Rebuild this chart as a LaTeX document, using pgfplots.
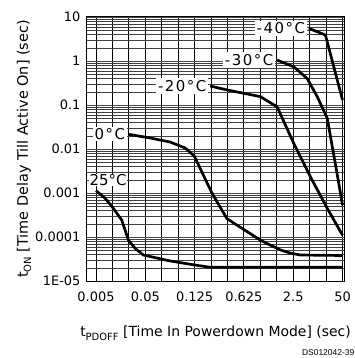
\documentclass[border=0pt]{standalone}
\usepackage{pgfplots}
\pgfplotsset{compat=1.18}
\usepackage{fontspec}
\setmainfont{DejaVu Sans}
\newfontfamily\arialfont{Liberation Sans}
\newfontfamily\spacedfont[LetterSpace=10]{DejaVu Sans}
\begin{document}
\begin{tikzpicture}
\begin{axis}[
  at={(0,0)}, anchor=south west,
  scale only axis, width=257bp, height=264bp,
  clip=false,
  xmin=-0.55, xmax=15.09,
  ymode=log, ymin=1e-5, ymax=10,
  xtick={0,...,15},
  xticklabels={0.005,,,0.05,,,0.125,,,0.625,,,2.5,,,50},
  ytick={1e-5,1e-4,1e-3,1e-2,1e-1,1,10},
  yticklabels={1E-05,0.0001,0.001,0.01,0.1,1,10},
  minor ytick={2e-5,3e-5,4e-5,5e-5,6e-5,7e-5,8e-5,9e-5,
               2e-4,3e-4,4e-4,5e-4,6e-4,7e-4,8e-4,9e-4,
               2e-3,3e-3,4e-3,5e-3,6e-3,7e-3,8e-3,9e-3,
               2e-2,3e-2,4e-2,5e-2,6e-2,7e-2,8e-2,9e-2,
               0.2,0.3,0.4,0.5,0.6,0.7,0.8,0.9,
               2,3,4,5,6,7,8,9},
  major tick length=0, minor tick length=0,
  xmajorgrids, ymajorgrids, yminorgrids,
  major x grid style={black, line width=0.9bp},
  major y grid style={black!70, line width=0.5bp},
  minor y grid style={black!75, line width=0.5bp},
  axis line style={black, line width=1bp},
  tick label style={font=\fontsize{13}{15}\selectfont},
  /pgf/number format/assume math mode=true,
  xticklabel style={yshift=-7bp},
  yticklabel style={xshift=-3bp},
]
% 25 C
\addplot[black, line width=2.7bp, line join=round, mark=none] coordinates {(0,0.00113) (0.55,7.6e-4) (1.05,4.5e-4) (1.57,2.4e-4) (1.97,8.5e-5) (2.38,5.5e-5) (2.88,3.9e-5) (4.41,2.9e-5) (6.04,2.3e-5) (6.95,2.05e-5) (15,2.05e-5)};
% 0 C
\addplot[black, line width=2.7bp, line join=round, mark=none] coordinates {(1.97,0.0216) (3.29,0.0178) (4.51,0.0144) (5.43,0.0105) (5.98,0.0069) (7.05,0.001) (7.97,2.6e-4) (10,8.5e-5) (11.2,5.1e-5) (11.83,4.3e-5) (12.44,3.9e-5) (15,3.8e-5)};
% -20 C
\addplot[black, line width=2.7bp, line join=round, mark=none] coordinates {(6.95,0.27) (7.97,0.22) (10,0.155) (11.02,0.091) (12.03,0.0135) (13.15,0.00197) (14.07,4.5e-4) (15,1.1e-4)};
% -30 C
\addplot[black, line width=2.7bp, line join=round, mark=none] coordinates {(11.02,1.05) (12.03,0.74) (12.85,0.40) (13.46,0.155) (14.07,0.050) (14.68,0.0026) (15,5.3e-4)};
% -40 C
\addplot[black, line width=2.7bp, line join=round, mark=none] coordinates {(12.95,5.5) (13.96,3.9) (15,0.13)};

\node[fill=white, inner sep=2bp, anchor=east, font=\spacedfont\fontsize{15}{17}\selectfont] at (axis cs:12.85,5.5) {-40°C};
\node[fill=white, inner sep=2bp, anchor=east, font=\spacedfont\fontsize{15}{17}\selectfont] at (axis cs:10.92,1.05) {-30°C};
\node[fill=white, inner sep=2bp, anchor=east, font=\spacedfont\fontsize{15}{17}\selectfont] at (axis cs:6.85,0.27) {-20°C};
\node[fill=white, inner sep=1.5bp, anchor=east, font=\spacedfont\fontsize{15}{17}\selectfont] at (axis cs:1.87,0.0216) {0°C};
\node[fill=white, inner sep=0.5bp, anchor=center, font=\fontsize{15}{17}\selectfont] at (axis cs:0.74,0.00197) {25°C};

\node[anchor=base west, font=\fontsize{14}{16}\selectfont, inner sep=0pt] at (axis description cs:-0.027,-0.212) {t\raisebox{-0.4ex}{\fontsize{10}{10}\selectfont PDOFF} [Time In Powerdown Mode] (sec)};
\node[rotate=90, anchor=center, font=\fontsize{14.5}{16}\selectfont, inner sep=0pt] at (axis description cs:-0.245,0.5) {t\raisebox{-0.4ex}{\fontsize{10}{10}\selectfont ON} [Time Delay Till Active On] (sec)};
\end{axis}
\node[anchor=east, inner sep=0pt, font=\arialfont\fontsize{8.5}{10}\selectfont] at (267.5bp,-71.7bp) {DS012042-39};
\pgfresetboundingbox
\useasboundingbox (-87bp,-77bp) rectangle (268bp,281bp);
\end{tikzpicture}
\end{document}
